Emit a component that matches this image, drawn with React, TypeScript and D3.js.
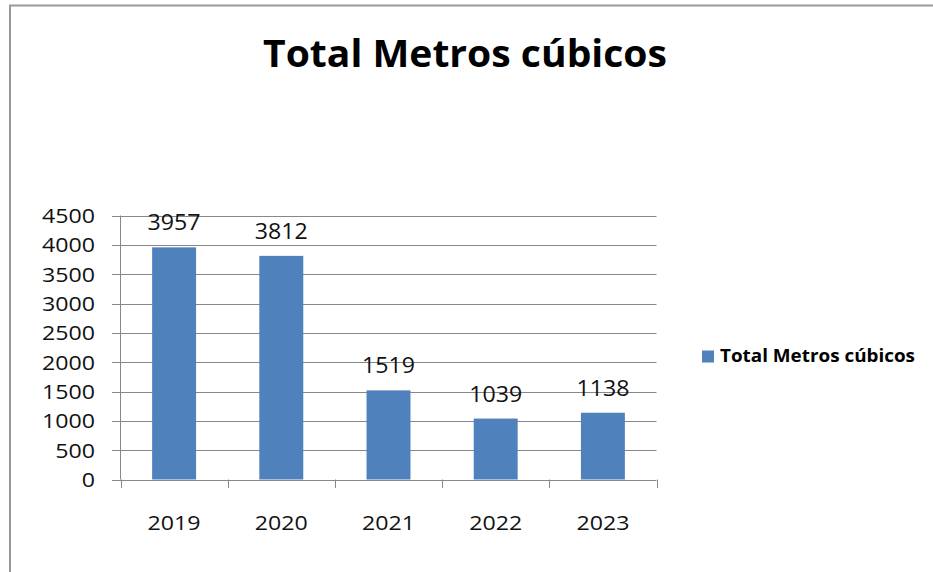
import React from "react";
import * as d3 from "d3";

const categories = ["2019", "2020", "2021", "2022", "2023"];
const values = [3957, 3812, 1519, 1039, 1138];
const yTicks = [0, 500, 1000, 1500, 2000, 2500, 3000, 3500, 4000, 4500];
const title = "Total Metros cúbicos";
const seriesName = "Total Metros cúbicos";

const W = 933;
const H = 572;
const BAR = "#4F81BD";
const GRID = "#888888";
const FONT = "'Open Sans', 'DejaVu Sans', sans-serif";
const DIGIT_W = 13.25;

export default function App() {
  const x = d3
    .scaleBand<string>()
    .domain(categories)
    .range([120.5, 656.5])
    .paddingInner(0.59)
    .paddingOuter(0.295);
  const y = d3.scaleLinear().domain([0, 4500]).range([479.5, 215.5]);
  const step = x.step();
  const x0 = 120.5;
  const boundaries = d3.range(categories.length + 1).map((i) => x0 + i * step);

  return (
    <svg
      width={W}
      height={H}
      style={{ position: "absolute", left: 0, top: 0, background: "#fff" }}
      fontFamily={FONT}
    >
      <rect x={0} y={0} width={W} height={H} fill="#fff" />
      <path d={`M10,${H} L10,5.5 L${W},5.5`} fill="none" stroke="#999" strokeWidth={2} />

      <text
        x={465}
        y={66.5}
        textAnchor="middle"
        fontSize={37}
        fontWeight="bold"
        fill="#000"
        textLength={404}
        lengthAdjust="spacingAndGlyphs"
      >
        {title}
      </text>

      {yTicks.map((t) => (
        <g key={t}>
          <line x1={112} x2={656.5} y1={Math.round(y(t)) + 0.5} y2={Math.round(y(t)) + 0.5} stroke={GRID} strokeWidth={1} />
          <text
            x={95}
            y={y(t) + 7.5}
            textAnchor="end"
            fontSize={20}
            fill="#111"
            textLength={String(t).length * DIGIT_W}
            lengthAdjust="spacingAndGlyphs"
          >
            {t}
          </text>
        </g>
      ))}

      <line x1={120.5} x2={120.5} y1={215.5} y2={479.5} stroke={GRID} strokeWidth={1} />
      {boundaries.map((b, i) => (
        <line key={i} x1={Math.round(b) + 0.5} x2={Math.round(b) + 0.5} y1={479.5} y2={488} stroke={GRID} strokeWidth={1} />
      ))}

      {categories.map((c, i) => {
        const bx = x(c)!;
        const bw = x.bandwidth();
        const top = y(values[i]);
        const cx = bx + bw / 2;
        return (
          <g key={c}>
            <rect x={bx} y={top} width={bw} height={y(0) - top} fill={BAR} />
            <text
              x={cx}
              y={top - 17}
              textAnchor="middle"
              fontSize={21.5}
              fill="#111"
              textLength={String(values[i]).length * DIGIT_W}
              lengthAdjust="spacingAndGlyphs"
            >
              {values[i]}
            </text>
            <text
              x={cx}
              y={529.5}
              textAnchor="middle"
              fontSize={20}
              fill="#111"
              textLength={c.length * DIGIT_W}
              lengthAdjust="spacingAndGlyphs"
            >
              {c}
            </text>
          </g>
        );
      })}

      <rect x={702} y={350.5} width={12} height={12} fill={BAR} />
      <text
        x={720}
        y={362}
        fontSize={18}
        fontWeight="bold"
        fill="#000"
        textLength={195}
        lengthAdjust="spacingAndGlyphs"
      >
        {seriesName}
      </text>
    </svg>
  );
}
